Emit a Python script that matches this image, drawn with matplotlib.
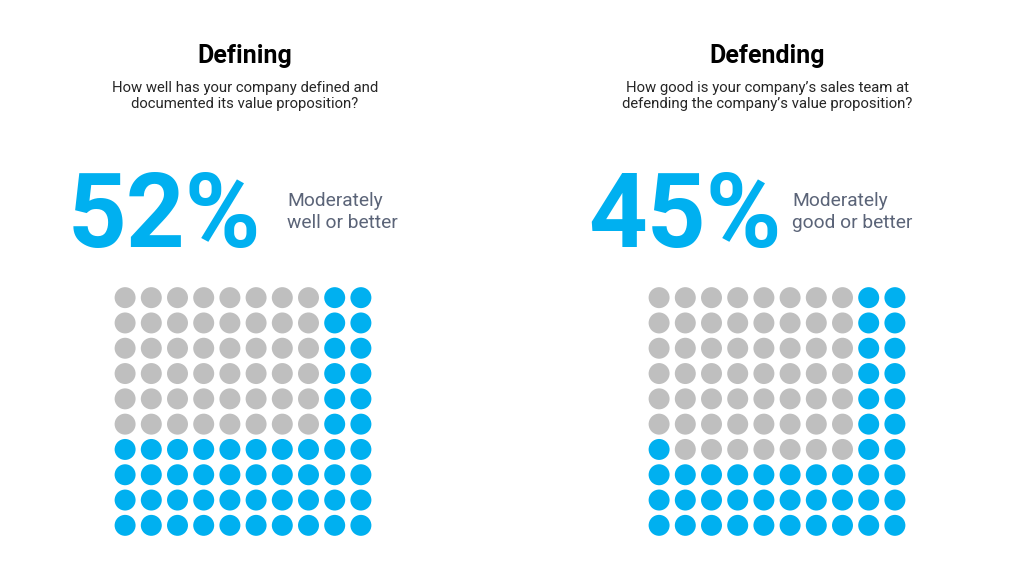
import matplotlib
matplotlib.use("Agg")
import matplotlib.pyplot as plt

plt.rcParams['font.family'] = ['Roboto', 'DejaVu Sans']

titles = ["Defining", "Defending"]
questions = ["How well has your company defined and\ndocumented its value proposition?",
             "How good is your company\u2019s sales team at\ndefending the company\u2019s value proposition?"]
percents = [52, 45]
notes = ["Moderately\nwell or better", "Moderately\ngood or better"]

# waffle grids, top row first; 1 = blue
left_grid = [
    [0, 0, 0, 0, 0, 0, 0, 0, 1, 1],
    [0, 0, 0, 0, 0, 0, 0, 0, 1, 1],
    [0, 0, 0, 0, 0, 0, 0, 0, 1, 1],
    [0, 0, 0, 0, 0, 0, 0, 0, 1, 1],
    [0, 0, 0, 0, 0, 0, 0, 0, 1, 1],
    [0, 0, 0, 0, 0, 0, 0, 0, 1, 1],
    [1, 1, 1, 1, 1, 1, 1, 1, 1, 1],
    [1, 1, 1, 1, 1, 1, 1, 1, 1, 1],
    [1, 1, 1, 1, 1, 1, 1, 1, 1, 1],
    [1, 1, 1, 1, 1, 1, 1, 1, 1, 1],
]
right_grid = [
    [0, 0, 0, 0, 0, 0, 0, 0, 1, 1],
    [0, 0, 0, 0, 0, 0, 0, 0, 1, 1],
    [0, 0, 0, 0, 0, 0, 0, 0, 1, 1],
    [0, 0, 0, 0, 0, 0, 0, 0, 1, 1],
    [0, 0, 0, 0, 0, 0, 0, 0, 1, 1],
    [0, 0, 0, 0, 0, 0, 0, 0, 1, 1],
    [1, 0, 0, 0, 0, 0, 0, 0, 1, 1],
    [1, 1, 1, 1, 1, 1, 1, 1, 1, 1],
    [1, 1, 1, 1, 1, 1, 1, 1, 1, 1],
    [1, 1, 1, 1, 1, 1, 1, 1, 1, 1],
]
grids = [left_grid, right_grid]

blue = "#00B0F0"
grey = "#BFBFBF"

fig = plt.figure(figsize=(10.24, 5.76), dpi=100)

title_x = [245 / 1024, 767 / 1024]
pct_x = [68 / 1024, 588 / 1024]
note_x = [287 / 1024, 792 / 1024]
grid_left = [112 / 1024, 646 / 1024]

for i in range(2):
    fig.text(title_x[i], 1 - 63 / 576, titles[i], ha="center", va="baseline",
             fontsize=18, fontweight="bold", color="black")
    fig.text(title_x[i], 1 - 96 / 576, questions[i], ha="center", va="center",
             fontsize=10.75, color="#262626", linespacing=1.12)
    fig.text(pct_x[i], 1 - 247 / 576, f"{percents[i]}%", ha="left", va="baseline",
             fontsize=74, fontweight="bold", color=blue)
    fig.text(note_x[i], 1 - 212 / 576, notes[i], ha="left", va="center",
             fontsize=13.8, color="#5B6478", linespacing=1.3)

    ax = fig.add_axes([grid_left[i], 38 / 576, 262 / 1024, 253 / 576])
    xs, ys, cs = [], [], []
    for r, row in enumerate(grids[i]):
        for c, v in enumerate(row):
            xs.append(c)
            ys.append(r)
            cs.append(blue if v else grey)
    ax.scatter(xs, ys, s=228, c=cs, linewidths=0)
    ax.set_xlim(-0.5, 9.5)
    ax.set_ylim(9.5, -0.5)
    ax.axis("off")

fig.savefig("out.png", dpi=100)
